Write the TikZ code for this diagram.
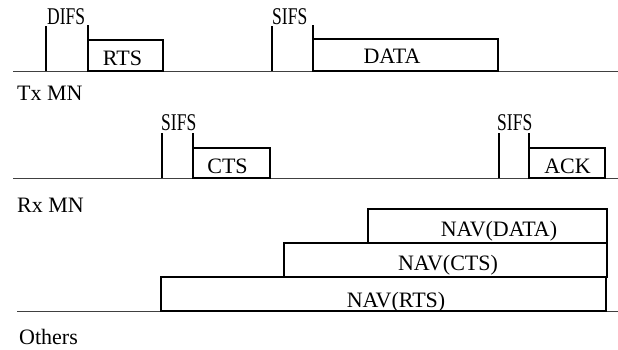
\documentclass[tikz,border=0pt]{standalone}
\usepackage{fontspec}
\setmainfont{Liberation Serif}
\begin{document}
\begin{tikzpicture}[x=1pt,y=-1pt,
  frame/.style={draw, line width=1.4pt, inner sep=0pt, outer sep=0pt, anchor=north west},
  axis/.style={line width=0.9pt, draw=black!75},
  tick/.style={line width=1.1pt},
  lab/.style={font=\fontsize{22}{24}\selectfont, inner sep=0pt, anchor=base},
  side/.style={font=\fontsize{22}{24}\selectfont, inner sep=0pt, anchor=base west},
  gap/.style={font=\fontsize{24}{26}\selectfont, inner sep=0pt, anchor=base west},
]
\useasboundingbox (0,0) rectangle (618,350);

% time axes
\coordinate (txa) at (13,71);  \coordinate (txb) at (618,71);
\coordinate (rxa) at (13,178); \coordinate (rxb) at (618,178);
\coordinate (ota) at (17,311); \coordinate (otb) at (618,311);
\draw[axis] (txa) -- (txb);
\draw[axis] (rxa) -- (rxb);
\draw[axis] (ota) -- (otb);

% station names
\node[side] (txname) at (17,101) {Tx MN};
\node[side] (rxname) at (17,212) {Rx MN};
\node[side] (otname) at (19,344) {Others};

% Tx MN: DIFS, RTS, SIFS, DATA
\draw[tick] (46,71) -- (46,26);
\draw[tick] (88,71) -- (88,25);
\node[gap] (difs) at (47,25) {\scalebox{0.73}[1]{DIFS}};
\node[frame, minimum width=75pt, minimum height=31pt] (rts) at (88,40) {};
\node[lab] (rtslab) at (122.5,66) {RTS};

\draw[tick] (272,71) -- (272,26);
\draw[tick] (313,71) -- (313,25);
\node[gap] (sifsa) at (272,25) {\scalebox{0.73}[1]{SIFS}};
\node[frame, minimum width=185pt, minimum height=32pt] (data) at (313,39) {};
\node[lab] (datalab) at (392,64) {DATA};

% Rx MN: SIFS, CTS, SIFS, ACK
\draw[tick] (162,178) -- (162,133);
\draw[tick] (193,178) -- (193,133);
\node[gap] (sifsb) at (161,131) {\scalebox{0.73}[1]{SIFS}};
\node[frame, minimum width=77pt, minimum height=30pt] (cts) at (193,148) {};
\node[lab] (ctslab) at (227.5,173) {CTS};

\draw[tick] (499,178) -- (499,133);
\draw[tick] (529,178) -- (529,133);
\node[gap] (sifsc) at (497,131) {\scalebox{0.73}[1]{SIFS}};
\node[frame, minimum width=76pt, minimum height=30pt] (ack) at (529,148) {};
\node[lab] (acklab) at (567.5,173) {ACK};

% Others: NAV settings
\node[frame, minimum width=239pt, minimum height=34pt] (navdata) at (368,209) {};
\node[lab] (navdatalab) at (499,236) {NAV(DATA)};
\node[frame, minimum width=323pt, minimum height=34pt] (navcts) at (284,243) {};
\node[lab] (navctslab) at (448,270) {NAV(CTS)};
\node[frame, minimum width=445pt, minimum height=34pt] (navrts) at (161,277) {};
\node[lab] (navrtslab) at (396,307) {NAV(RTS)};
\end{tikzpicture}
\end{document}
